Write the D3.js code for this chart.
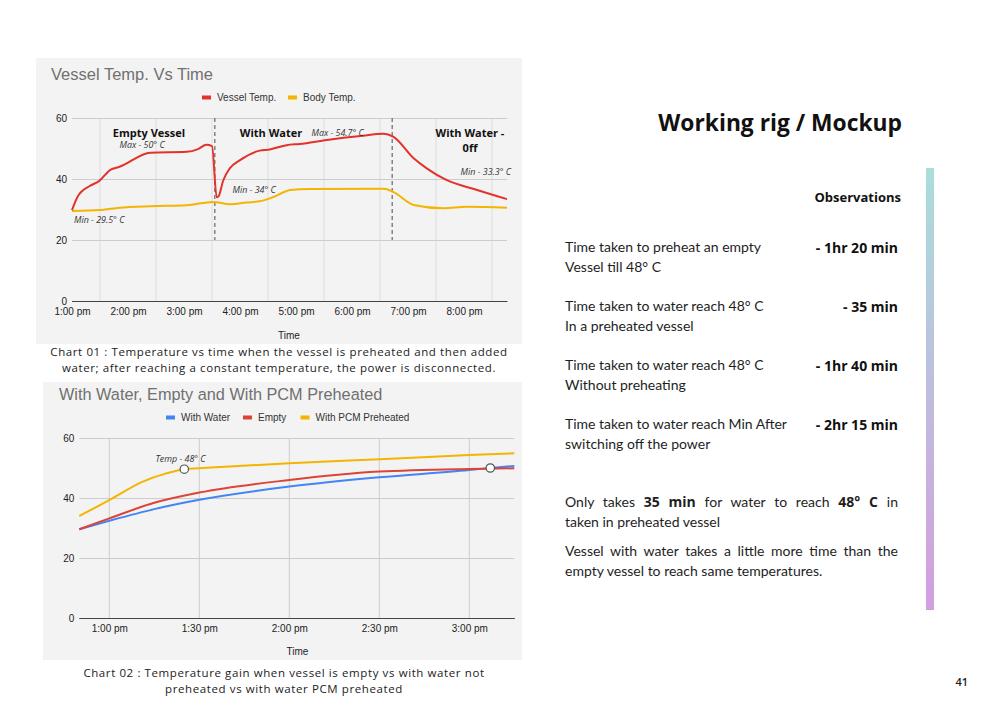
<!DOCTYPE html>
<html>
<head>
<meta charset="utf-8">
<script src="https://cdn.jsdelivr.net/npm/d3@7"></script>
<style>
body { margin: 0; background: #fff; }
#page { position: relative; width: 1000px; height: 707px; overflow: hidden; background: #fff; }
#page svg { position: absolute; left: 0; top: 0; }
.obs { position: absolute; font-family: Lato, sans-serif; font-size: 14px; color: #1e1e1e; white-space: nowrap; line-height: 20px; }
.val { position: absolute; font-family: "Open Sans", sans-serif; font-weight: 700; font-size: 14px; color: #111; white-space: nowrap; text-align: right; }
.just { position: absolute; left: 565px; width: 333px; font-family: Lato, sans-serif; font-size: 14px; color: #1e1e1e; line-height: 20px; text-align: justify; text-align-last: justify; white-space: normal; }
.just b { font-family: "Open Sans", sans-serif; font-weight: 700; }
</style>
</head>
<body>
<div id="page"></div>
<script>
// ----- DATA -----

// chart 01 : vessel temp vs time
var vesselTimes = ["13:00","13:06","13:19","13:29","13:41","13:51","14:24","15:03","15:15","15:24","15:30","15:35","15:37","15:42","15:49","16:00","16:21","16:32","16:50","17:04","17:33","18:09","18:34","18:44","19:06","19:20","19:41","20:14","20:46"];
var vesselTemps = [29.8, 34.2, 37.7, 39.3, 43.0, 44.0, 48.6, 48.9, 49.8, 51.2, 50.8, 34.0, 34.3, 39.5, 43.5, 46.2, 49.3, 49.7, 51.1, 51.5, 52.8, 54.1, 54.8, 53.9, 46.8, 43.5, 39.7, 36.4, 33.4];
var bodyTimes = ["13:00","13:30","13:51","14:24","15:03","15:31","15:49","16:07","16:21","16:35","16:54","17:15","18:34","18:44","19:06","19:38","20:03","20:46"];
var bodyTemps = [29.5, 29.8, 30.6, 31.1, 31.4, 32.5, 31.7, 32.3, 32.7, 34.0, 36.4, 36.7, 36.8, 35.8, 31.5, 30.4, 30.9, 30.6];
var phaseTimes = ["15:33", "18:43"];
var chart1Ticks = ["13:00","14:00","15:00","16:00","17:00","18:00","19:00","20:00"];

// chart 02 : with water, empty, PCM preheated
var waterTimes = ["12:50","13:00","13:15","13:30","14:00","14:30","15:00","15:07","15:15"];
var waterTemps = [29.6, 32.4, 36.3, 39.4, 43.8, 46.9, 49.3, 50.0, 50.7];
var emptyTimes = ["12:50","13:00","13:15","13:30","14:00","14:30","15:00","15:15"];
var emptyTemps = [29.6, 33.2, 38.4, 41.8, 46.0, 48.8, 49.7, 49.9];
var pcmTimes = ["12:50","13:00","13:11","13:19","13:25","13:30","14:00","14:30","15:00","15:15"];
var pcmTemps = [34.0, 39.3, 45.4, 48.2, 49.6, 49.9, 51.6, 52.9, 54.3, 54.9];
var chart2Ticks = ["13:00","13:30","14:00","14:30","15:00"];
var markerTimes = ["13:25", "15:07"];
var markerTemps = [49.6, 50.0];

var tempTicks = [0, 20, 40, 60];

// ----- observations -----
var obsLabels = [
    ["Time taken to preheat an empty", "Vessel till 48\u00b0 C"],
    ["Time taken to water reach 48\u00b0 C", "In a preheated vessel"],
    ["Time taken to water reach 48\u00b0 C", "Without preheating"],
    ["Time taken to water reach Min After", "switching off the power"]
];
var obsValues = ["- 1hr 20 min", "- 35 min", "- 1hr 40 min", "- 2hr 15 min"];

var parse = d3.timeParse("%H:%M");
var fmt = function(d) { return d3.timeFormat("%-I:%M")(d) + " pm"; };

var page = d3.select("#page");
var svg = page.append("svg").attr("width", 1000).attr("height", 707);

var axisFont = "'Liberation Sans', Arial, sans-serif";
var pageFont = "'Open Sans', sans-serif";

function zip(times, temps) {
    return times.map(function(t, i) { return { t: parse(t), v: temps[i] }; });
}

function legend(g, items, y) {
    items.forEach(function(it) {
        g.append("rect").attr("x", it.x).attr("y", y - 2).attr("width", 9).attr("height", 4).attr("fill", it.color);
        g.append("text").attr("x", it.x + 15).attr("y", y + 3.5)
            .attr("font-family", axisFont).attr("font-size", 10).attr("fill", "#333").text(it.label);
    });
}

function caption(lines, cx) {
    lines.forEach(function(c) {
        svg.append("text").attr("x", cx).attr("y", c[1]).attr("text-anchor", "middle")
            .attr("font-family", pageFont).attr("font-size", 11.5).attr("letter-spacing", 0.6)
            .attr("fill", "#222").text(c[0]);
    });
}

// ----- CHART 01 -----

svg.append("rect").attr("x", 36).attr("y", 58).attr("width", 486).attr("height", 286).attr("fill", "#f3f3f3");
svg.append("text").attr("x", 51).attr("y", 79.5).attr("font-family", axisFont).attr("font-size", 16.5)
    .attr("fill", "#707070").text("Vessel Temp. Vs Time");

legend(svg, [
    { x: 202, color: "#e3322b", label: "Vessel Temp." },
    { x: 288, color: "#f4b400", label: "Body Temp." }
], 97.5);

var x1 = d3.scaleTime().domain([parse("13:00"), parse("20:46")]).range([72, 507]);
var y1 = d3.scaleLinear().domain([0, 60]).range([301, 118]);

var g1 = svg.append("g");

// vertical gridlines on the half hours
var half1 = chart1Ticks.map(function(t) { return d3.timeMinute.offset(parse(t), 30); });
g1.selectAll(".vgrid").data(half1).enter().append("line")
    .attr("x1", x1).attr("x2", x1).attr("y1", y1(60)).attr("y2", y1(0))
    .attr("stroke", "#dedede").attr("stroke-width", 1);

var yAxis1 = g1.append("g").attr("transform", "translate(72,0)")
    .call(d3.axisLeft(y1).tickValues(tempTicks).tickSize(-435).tickPadding(5));
yAxis1.select(".domain").remove();
yAxis1.selectAll(".tick line").attr("stroke", function(d) { return d === 0 ? "#444" : "#cccccc"; });
yAxis1.selectAll(".tick text").attr("font-family", axisFont).attr("font-size", 10).attr("fill", "#222");

var xAxis1 = g1.append("g").attr("transform", "translate(0,301)")
    .call(d3.axisBottom(x1).tickValues(chart1Ticks.map(parse)).tickFormat(fmt).tickSize(0).tickPadding(7));
xAxis1.select(".domain").attr("stroke", "#444");
xAxis1.selectAll(".tick text").attr("font-family", axisFont).attr("font-size", 10).attr("fill", "#222");

g1.append("text").attr("x", 289).attr("y", 338.5).attr("text-anchor", "middle")
    .attr("font-family", axisFont).attr("font-size", 10).attr("fill", "#222").text("Time");

// phase separators
g1.selectAll(".phase").data(phaseTimes.map(parse)).enter().append("line")
    .attr("x1", x1).attr("x2", x1).attr("y1", y1(60)).attr("y2", y1(20))
    .attr("stroke", "#666").attr("stroke-width", 1.2).attr("stroke-dasharray", "4,3");

var line1 = d3.line().x(function(d) { return x1(d.t); }).y(function(d) { return y1(d.v); }).curve(d3.curveMonotoneX);

g1.append("path").datum(zip(bodyTimes, bodyTemps)).attr("d", line1)
    .attr("fill", "none").attr("stroke", "#f4b400").attr("stroke-width", 2);
g1.append("path").datum(zip(vesselTimes, vesselTemps)).attr("d", line1)
    .attr("fill", "none").attr("stroke", "#e3322b").attr("stroke-width", 2);

// annotations
function note(g, x, y, txt, bold, anchor) {
    g.append("text").attr("x", x).attr("y", y)
        .attr("text-anchor", anchor || "start")
        .attr("font-family", pageFont)
        .attr("font-size", bold ? 11 : 8.9)
        .attr("font-weight", bold ? 700 : 400)
        .attr("font-style", bold ? "normal" : "italic")
        .attr("fill", bold ? "#111" : "#333")
        .text(txt);
}
note(g1, 149, 137, "Empty Vessel", true, "middle");
note(g1, 119.5, 148, "Max - 50\u00b0 C", false);
note(g1, 271, 137, "With Water", true, "middle");
note(g1, 311.5, 136, "Max - 54.7\u00b0 C", false);
note(g1, 470, 137, "With Water -", true, "middle");
note(g1, 470, 151.5, "0ff", true, "middle");
note(g1, 511, 175, "Min - 33.3\u00b0 C", false, "end");
note(g1, 232.5, 193, "Min - 34\u00b0 C", false);
note(g1, 74, 223, "Min - 29.5\u00b0 C", false);

caption([["Chart 01 : Temperature vs time when the vessel is preheated and then added", 356],
          ["water; after reaching a constant temperature, the power is disconnected.", 372]], 279);

// ----- CHART 02 -----

svg.append("rect").attr("x", 43).attr("y", 382).attr("width", 479).attr("height", 278).attr("fill", "#f3f3f3");
svg.append("text").attr("x", 59).attr("y", 400).attr("font-family", axisFont).attr("font-size", 16.3)
    .attr("fill", "#707070").text("With Water, Empty and With PCM Preheated");

legend(svg, [
    { x: 166, color: "#4285f4", label: "With Water" },
    { x: 243, color: "#db4437", label: "Empty" },
    { x: 300.5, color: "#f4b400", label: "With PCM Preheated" }
], 417.5);

var x2 = d3.scaleTime().domain([parse("12:50"), parse("15:15")]).range([79.3, 514.3]);
var y2 = d3.scaleLinear().domain([0, 60]).range([618, 438]);

var g2 = svg.append("g");

g2.selectAll(".vgrid").data(chart2Ticks.map(parse)).enter().append("line")
    .attr("x1", x2).attr("x2", x2).attr("y1", y2(60)).attr("y2", y2(0))
    .attr("stroke", "#cccccc").attr("stroke-width", 1);

var yAxis2 = g2.append("g").attr("transform", "translate(79.3,0)")
    .call(d3.axisLeft(y2).tickValues(tempTicks).tickSize(-435).tickPadding(5));
yAxis2.select(".domain").remove();
yAxis2.selectAll(".tick line").attr("stroke", function(d) { return d === 0 ? "#444" : "#cccccc"; });
yAxis2.selectAll(".tick text").attr("font-family", axisFont).attr("font-size", 10).attr("fill", "#222");

var xAxis2 = g2.append("g").attr("transform", "translate(0,618)")
    .call(d3.axisBottom(x2).tickValues(chart2Ticks.map(parse)).tickFormat(fmt).tickSize(0).tickPadding(7));
xAxis2.select(".domain").attr("stroke", "#444");
xAxis2.selectAll(".tick text").attr("font-family", axisFont).attr("font-size", 10).attr("fill", "#222");

g2.append("text").attr("x", 297.5).attr("y", 655).attr("text-anchor", "middle")
    .attr("font-family", axisFont).attr("font-size", 10).attr("fill", "#222").text("Time");

var line2 = d3.line().x(function(d) { return x2(d.t); }).y(function(d) { return y2(d.v); }).curve(d3.curveMonotoneX);

[[pcmTimes, pcmTemps, "#f4b400"], [waterTimes, waterTemps, "#4285f4"], [emptyTimes, emptyTemps, "#db4437"]].forEach(function(s) {
    g2.append("path").datum(zip(s[0], s[1])).attr("d", line2)
        .attr("fill", "none").attr("stroke", s[2]).attr("stroke-width", 2);
});

g2.selectAll(".marker").data(zip(markerTimes, markerTemps)).enter().append("circle")
    .attr("cx", function(d) { return x2(d.t); }).attr("cy", function(d) { return y2(d.v); })
    .attr("r", 4.2).attr("fill", "#fff").attr("stroke", "#555").attr("stroke-width", 1.2);

note(g2, 180.5, 461.5, "Temp - 48\u00b0 C", false, "middle");

caption([["Chart 02 : Temperature gain when vessel is empty vs with water not", 677],
          ["preheated vs with water PCM preheated", 692.5]], 284);

// ----- RIGHT SIDE -----

svg.append("text").attr("x", 902).attr("y", 130.5).attr("text-anchor", "end")
    .attr("font-family", pageFont).attr("font-size", 22.8).attr("font-weight", 700).attr("fill", "#111")
    .text("Working rig / Mockup");
svg.append("text").attr("x", 901).attr("y", 201.5).attr("text-anchor", "end")
    .attr("font-family", pageFont).attr("font-size", 13).attr("font-weight", 700).attr("fill", "#111")
    .text("Observations");

var grad = svg.append("defs").append("linearGradient").attr("id", "bar")
    .attr("x1", 0).attr("y1", 0).attr("x2", 0).attr("y2", 1);
grad.append("stop").attr("offset", "0%").attr("stop-color", "#a9dedb");
grad.append("stop").attr("offset", "100%").attr("stop-color", "#d49de0");
svg.append("rect").attr("x", 926).attr("y", 168).attr("width", 8).attr("height", 442).attr("fill", "url(#bar)");

svg.append("text").attr("x", 968).attr("y", 685.5).attr("text-anchor", "end")
    .attr("font-family", pageFont).attr("font-size", 11).attr("font-weight", 600).attr("fill", "#222").text("41");

obsLabels.forEach(function(lines, i) {
    var top = 237 + i * 59;
    page.append("div").attr("class", "obs").style("left", "565px").style("top", top + "px")
        .html(lines[0] + "<br>" + lines[1]);
    page.append("div").attr("class", "val").style("right", (1000 - 898) + "px").style("top", (top + 1) + "px")
        .text(obsValues[i]);
});

page.append("div").attr("class", "just").style("top", "492px")
    .html("Only takes <b>35 min</b> for water to reach <b>48\u00b0 C</b> in");
page.append("div").attr("class", "obs").style("left", "565px").style("top", "512px")
    .text("taken in preheated vessel");
page.append("div").attr("class", "just").style("top", "541px")
    .text("Vessel with water takes a little more time than the");
page.append("div").attr("class", "obs").style("left", "565px").style("top", "561px")
    .text("empty vessel to reach same temperatures.");
</script>
</body>
</html>
